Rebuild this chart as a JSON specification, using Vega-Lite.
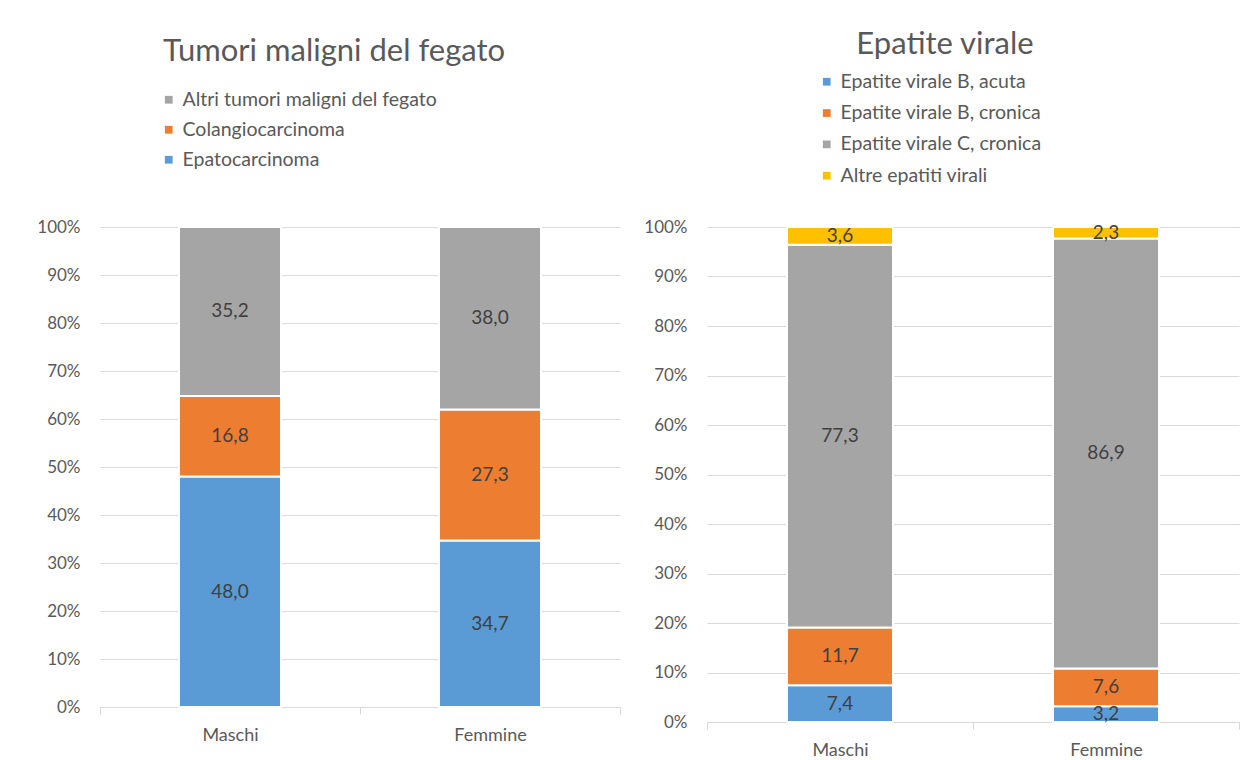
{
  "$schema": "https://vega.github.io/schema/vega-lite/v6.json",
  "background": "white",
  "padding": {"left": 36, "top": 29, "right": 16, "bottom": 5},
  "bounds": "flush",
  "spacing": 87,
  "config": {
    "font": "Lato",
    "locale": {"number": {"decimal": ",", "thousands": ".", "grouping": [3], "currency": ["", " €"]}},
    "view": {"stroke": null},
    "axisY": {"values": [0, 10, 20, 30, 40, 50, 60, 70, 80, 90, 100], "labelExpr": "datum.value + '%'", "grid": true, "gridColor": "#d9d9d9", "domain": false, "ticks": false, "labelPadding": 20, "labelFontSize": 17, "labelColor": "#595959", "title": null},
    "axisX": {"title": null, "labelAngle": 0, "domainColor": "#d9d9d9", "tickColor": "#d9d9d9", "tickSize": 7, "tickBand": "extent", "labelPadding": 12, "labelFontSize": 18, "labelColor": "#595959", "grid": false},
    "legend": {"title": null, "orient": "none", "direction": "vertical", "symbolType": "square", "symbolSize": 60, "labelFontSize": 19.5, "labelColor": "#595959", "labelLimit": 0, "symbolStrokeWidth": 0},
    "title": {"fontSize": 31, "color": "#595959", "fontWeight": "normal", "anchor": "middle"}
  },
  "resolve": {"scale": {"color": "independent", "y": "independent", "x": "independent"}, "legend": {"color": "independent"}},
  "hconcat": [
    {
      "width": 520,
      "height": 480,
      "title": {"text": "Tumori maligni del fegato", "dx": -26, "offset": 22},
      "data": {"values": [
        {"g": "Maschi", "c": "Epatocarcinoma", "v": 48.0},
        {"g": "Maschi", "c": "Colangiocarcinoma", "v": 16.8},
        {"g": "Maschi", "c": "Altri tumori maligni del fegato", "v": 35.2},
        {"g": "Femmine", "c": "Epatocarcinoma", "v": 34.7},
        {"g": "Femmine", "c": "Colangiocarcinoma", "v": 27.3},
        {"g": "Femmine", "c": "Altri tumori maligni del fegato", "v": 38.0}
      ]},
      "transform": [
        {"calculate": "indexof(['Epatocarcinoma','Colangiocarcinoma','Altri tumori maligni del fegato'], datum.c)", "as": "k"},
        {"stack": "v", "groupby": ["g"], "sort": [{"field": "k", "order": "ascending"}], "as": ["y0", "y1"]},
        {"calculate": "(datum.y0 + datum.y1) / 2", "as": "ym"}
      ],
      "encoding": {
        "x": {"field": "g", "type": "nominal", "sort": ["Maschi", "Femmine"], "scale": {"paddingInner": 0, "paddingOuter": 0}}
      },
      "layer": [
        {
          "mark": {"type": "bar", "size": 102, "stroke": "white", "strokeWidth": 2},
          "encoding": {
            "y": {"field": "y0", "type": "quantitative", "scale": {"domain": [0, 100]}},
            "y2": {"field": "y1"},
            "color": {"field": "c", "type": "nominal",
              "scale": {"domain": ["Altri tumori maligni del fegato", "Colangiocarcinoma", "Epatocarcinoma"], "range": ["#a5a5a5", "#ed7d31", "#5b9bd5"]},
              "legend": {"legendX": 59, "legendY": -137, "rowPadding": 9}}
          }
        },
        {
          "mark": {"type": "text", "fontSize": 19, "color": "#404040"},
          "encoding": {
            "y": {"field": "ym", "type": "quantitative"},
            "text": {"field": "v", "type": "quantitative", "format": ".1f"}
          }
        }
      ]
    },
    {
      "width": 532,
      "height": 495,
      "title": {"text": "Epatite virale", "dx": -28, "offset": 11},
      "data": {"values": [
        {"g": "Maschi", "c": "Epatite virale B, acuta", "v": 7.4},
        {"g": "Maschi", "c": "Epatite virale B, cronica", "v": 11.7},
        {"g": "Maschi", "c": "Epatite virale C, cronica", "v": 77.3},
        {"g": "Maschi", "c": "Altre epatiti virali", "v": 3.6},
        {"g": "Femmine", "c": "Epatite virale B, acuta", "v": 3.2},
        {"g": "Femmine", "c": "Epatite virale B, cronica", "v": 7.6},
        {"g": "Femmine", "c": "Epatite virale C, cronica", "v": 86.9},
        {"g": "Femmine", "c": "Altre epatiti virali", "v": 2.3}
      ]},
      "transform": [
        {"calculate": "indexof(['Epatite virale B, acuta','Epatite virale B, cronica','Epatite virale C, cronica','Altre epatiti virali'], datum.c)", "as": "k"},
        {"stack": "v", "groupby": ["g"], "sort": [{"field": "k", "order": "ascending"}], "as": ["y0", "y1"]},
        {"calculate": "(datum.y0 + datum.y1) / 2", "as": "ym"}
      ],
      "encoding": {
        "x": {"field": "g", "type": "nominal", "sort": ["Maschi", "Femmine"], "scale": {"paddingInner": 0, "paddingOuter": 0}}
      },
      "layer": [
        {
          "mark": {"type": "bar", "size": 106, "stroke": "white", "strokeWidth": 2},
          "encoding": {
            "y": {"field": "y0", "type": "quantitative", "scale": {"domain": [0, 100]}},
            "y2": {"field": "y1"},
            "color": {"field": "c", "type": "nominal",
              "scale": {"domain": ["Epatite virale B, acuta", "Epatite virale B, cronica", "Epatite virale C, cronica", "Altre epatiti virali"], "range": ["#5b9bd5", "#ed7d31", "#a5a5a5", "#ffc000"]},
              "legend": {"legendX": 110, "legendY": -155, "rowPadding": 10.3}}
          }
        },
        {
          "mark": {"type": "text", "fontSize": 19, "color": "#404040"},
          "encoding": {
            "y": {"field": "ym", "type": "quantitative"},
            "text": {"field": "v", "type": "quantitative", "format": ".1f"}
          }
        }
      ]
    }
  ]
}
